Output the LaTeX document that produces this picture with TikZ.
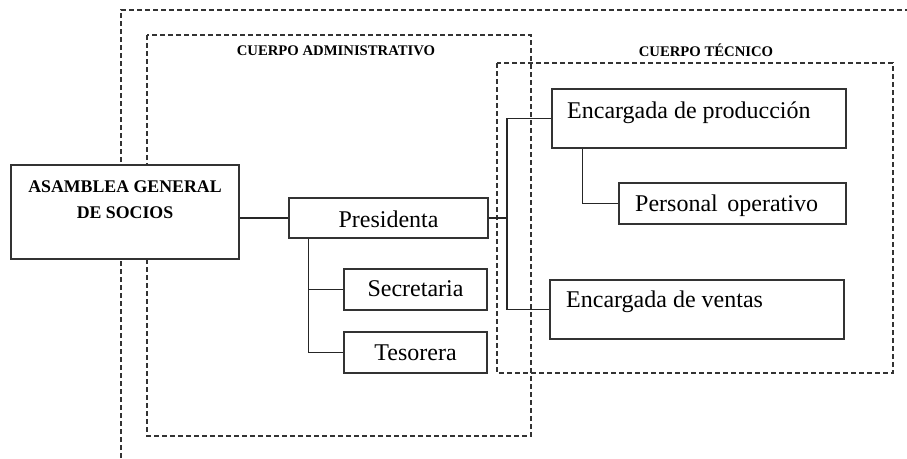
\documentclass[tikz,border=0pt]{standalone}
\usepackage{fontspec}
\setmainfont{Liberation Serif}
\tikzset{
  orgbox/.style={draw=black!80, fill=white, line width=1.4pt, rectangle, inner sep=0pt},
  dbox/.style={draw=black!80, line width=1.2pt, dash pattern=on 5pt off 3pt},
  conn/.style={draw=black!85, line width=1.3pt},
  txt/.style={inner sep=0pt, font=\fontsize{24}{28}\selectfont},
  btxt/.style={inner sep=0pt, font=\fontsize{17.8}{22}\selectfont\bfseries},
  grp/.style={inner sep=0pt, font=\fontsize{14.7}{17}\selectfont\bfseries}
}
\begin{document}
\begin{tikzpicture}[x=1pt, y=-1pt]
\useasboundingbox (0,0) rectangle (907,458);
% dashed group frames
\draw[dbox] (121,458) -- (121,10) -- (907,10);
\draw[dbox] (147,35) rectangle (531,436);
\draw[dbox] (497,63) rectangle (893,373);
\node[grp, anchor=base] (admlbl) at (336,55) {CUERPO ADMINISTRATIVO};
\node[grp, anchor=base] (teclbl) at (706,56) {CUERPO TÉCNICO};
% boxes
\node[orgbox, minimum width=228pt, minimum height=94pt] (asam) at (125,212) {};
\node[orgbox, minimum width=199pt, minimum height=40pt] (pres) at (388.5,218) {};
\node[orgbox, minimum width=143pt, minimum height=41pt] (sec) at (415.5,289.5) {};
\node[orgbox, minimum width=143pt, minimum height=41pt] (tes) at (415.5,352.5) {};
\node[orgbox, minimum width=294pt, minimum height=59pt] (prod) at (699,118.5) {};
\node[orgbox, minimum width=227pt, minimum height=41pt] (pers) at (732.5,203.5) {};
\node[orgbox, minimum width=294pt, minimum height=59pt] (vent) at (697,309.5) {};
% texts
\node[btxt, anchor=base] (asam1) at (125,192.6) {ASAMBLEA GENERAL};
\node[btxt, anchor=base] (asam2) at (125,218.6) {DE SOCIOS};
\node[txt, anchor=base] (prest) at (388.5,227) {Presidenta};
\node[txt, anchor=base] (sect) at (415.5,296.7) {Secretaria};
\node[txt, anchor=base] (test) at (415.5,360) {Tesorera};
\node[txt, anchor=base west] (prodt) at (567,118) {Encargada de producción};
\node[txt, anchor=base west] (perst) at (635,211) {Personal\hspace{0.4em}operativo};
\node[txt, anchor=base west] (ventt) at (566,307.3) {Encargada de ventas};
% connectors
\coordinate (bus) at (507,218);
\draw[conn] (pres.west) -- (pres.west -| asam.east);
\draw[conn] ([xshift=20pt]pres.south west) |- (tes.west);
\draw[conn] ([xshift=20pt]pres.south west |- sec.west) -- (sec.west);
\draw[conn] (pres.east) -- (bus);
\draw[conn] (prod.west) -| (bus) |- (vent.west);
\draw[conn] ([xshift=31pt]prod.south west) |- (pers.west);
\end{tikzpicture}
\end{document}
